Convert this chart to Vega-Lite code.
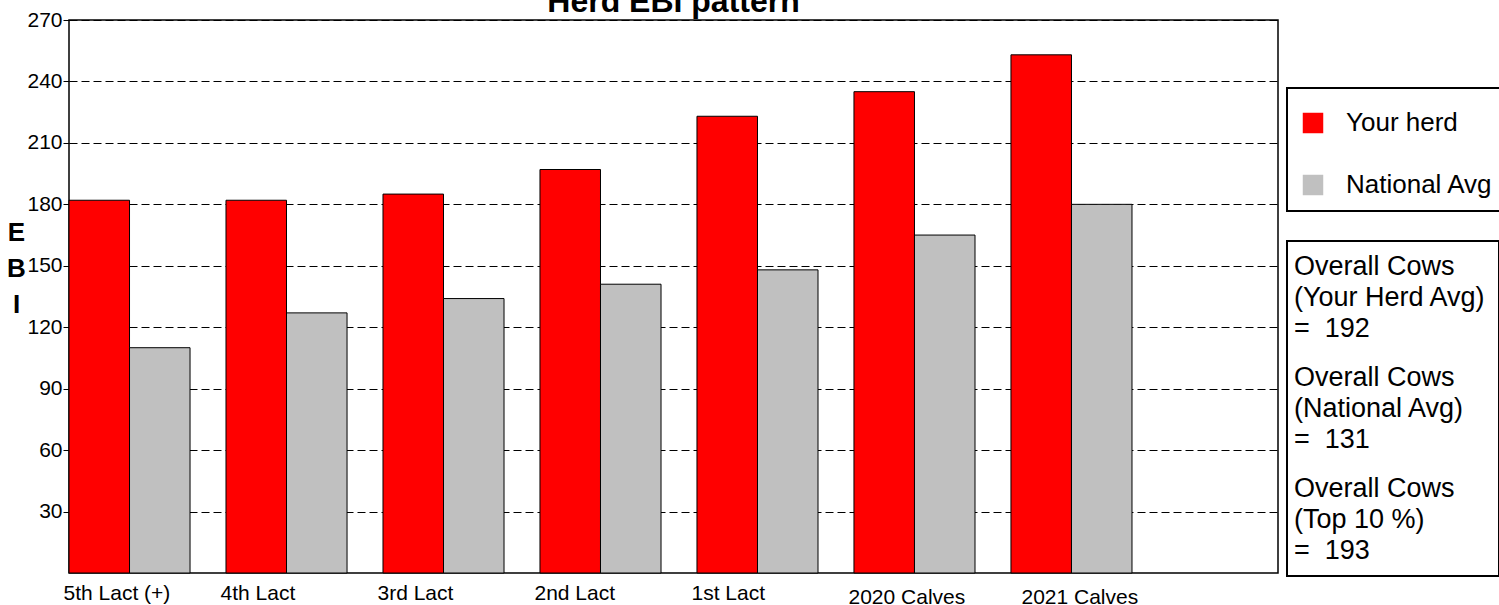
{
  "$schema": "https://vega.github.io/schema/vega-lite/v6.json",
  "width": 1209,
  "height": 553,
  "autosize": {"type": "none"},
  "padding": {"left": 69, "top": 20, "right": 221, "bottom": 32},
  "background": "white",
  "title": {"text": "Herd EBI pattern", "fontSize": 32, "fontWeight": "bold", "font": "Liberation Sans", "color": "black", "frame": "group", "anchor": "middle", "baseline": "alphabetic", "offset": -35},
  "config": {
    "font": "Liberation Sans",
    "view": {"stroke": "black", "strokeWidth": 1.5},
    "legend": {"strokeWidth": 2},
    "style": {"guide-label": {"lineHeight": 31}}
  },
  "layer": [
    {
      "data": {"values": [
        {"category": "5th Lact (+)", "series": "Your herd", "ebi": 182},
        {"category": "5th Lact (+)", "series": "National Avg", "ebi": 110},
        {"category": "4th Lact", "series": "Your herd", "ebi": 182},
        {"category": "4th Lact", "series": "National Avg", "ebi": 127},
        {"category": "3rd Lact", "series": "Your herd", "ebi": 185},
        {"category": "3rd Lact", "series": "National Avg", "ebi": 134},
        {"category": "2nd Lact", "series": "Your herd", "ebi": 197},
        {"category": "2nd Lact", "series": "National Avg", "ebi": 141},
        {"category": "1st Lact", "series": "Your herd", "ebi": 223},
        {"category": "1st Lact", "series": "National Avg", "ebi": 148},
        {"category": "2020 Calves", "series": "Your herd", "ebi": 235},
        {"category": "2020 Calves", "series": "National Avg", "ebi": 165},
        {"category": "2021 Calves", "series": "Your herd", "ebi": 253},
        {"category": "2021 Calves", "series": "National Avg", "ebi": 180}
      ]},
      "mark": {"type": "bar", "stroke": "black", "strokeWidth": 1},
      "encoding": {
        "x": {
          "field": "category", "type": "nominal",
          "sort": ["5th Lact (+)", "4th Lact", "3rd Lact", "2nd Lact", "1st Lact", "2020 Calves", "2021 Calves"],
          "scale": {"paddingInner": 0.229, "paddingOuter": 0.465, "align": 0},
          "axis": {
            "title": null, "domain": false, "ticks": false, "grid": false,
            "labelAngle": 0, "labelFontSize": 21, "labelColor": "black",
            "labelAlign": "left", "labelBaseline": "top",
            "labelPadding": {"condition": {"test": "indexof(datum.label, 'Calves') >= 0", "value": 13}, "value": 9},
            "labelOffset": {"condition": {"test": "datum.label == '2021 Calves'", "value": -50}, "value": -66}
          }
        },
        "xOffset": {"field": "series", "type": "nominal", "sort": ["Your herd", "National Avg"], "scale": {"paddingInner": 0, "paddingOuter": 0}},
        "y": {
          "field": "ebi", "type": "quantitative",
          "scale": {"domain": [0, 270], "nice": false, "zero": true},
          "axis": {
            "values": [30, 60, 90, 120, 150, 180, 210, 240, 270],
            "grid": true, "gridDash": [8, 4], "gridColor": "black", "gridOpacity": 1, "gridWidth": 1,
            "domain": false, "ticks": true, "tickSize": 6, "tickColor": "black", "tickWidth": 1,
            "labelFontSize": 21, "labelColor": "black", "labelPadding": 1,
            "title": ["E", "B", "I"], "titleAngle": 0, "titleFontSize": 26, "titleFontWeight": "bold",
            "titleColor": "black", "titleLineHeight": 36, "titleX": -53, "titleY": 212,
            "titleAlign": "center", "titleBaseline": "middle"
          }
        },
        "color": {
          "field": "series", "type": "nominal",
          "scale": {"domain": ["Your herd", "National Avg"], "range": ["#ff0000", "#c0c0c0"]},
          "legend": {
            "orient": "none", "legendX": 1218, "legendY": 68, "direction": "vertical",
            "title": " ", "titleFontSize": 1, "titlePadding": 8,
            "strokeColor": "black", "padding": 13,
            "symbolType": "square", "symbolSize": 420, "symbolStrokeWidth": 0, "symbolOpacity": 1,
            "labelFontSize": 26, "labelColor": "black", "labelOffset": 20, "rowPadding": 36, "labelLimit": 400,
            "labelExpr": "datum.label + '\u00a0\u00a0\u00a0'"
          }
        }
      }
    },
    {
      "data": {"values": [
        {"stat": "Overall Cows|(Your Herd Avg)|=\u00a0\u00a0192"},
        {"stat": "Overall Cows|(National Avg)|=\u00a0\u00a0131"},
        {"stat": "Overall Cows|(Top 10 %)|=\u00a0\u00a0193"}
      ]},
      "mark": {"type": "point", "opacity": 0},
      "encoding": {
        "shape": {
          "field": "stat", "type": "nominal", "sort": null,
          "legend": {
            "orient": "none", "legendX": 1218, "legendY": 221, "direction": "vertical",
            "title": null, "strokeColor": "black", "padding": 12,
            "symbolSize": 0, "symbolOpacity": 0, "symbolStrokeWidth": 0,
            "labelOffset": -32, "labelFontSize": 27, "labelColor": "black", "labelLimit": 400,
            "rowPadding": 21, "labelExpr": "split(replace(datum.label, /\\|/g, '\u00a0\u00a0\u00a0|'), '|')"
          }
        }
      }
    }
  ]
}
